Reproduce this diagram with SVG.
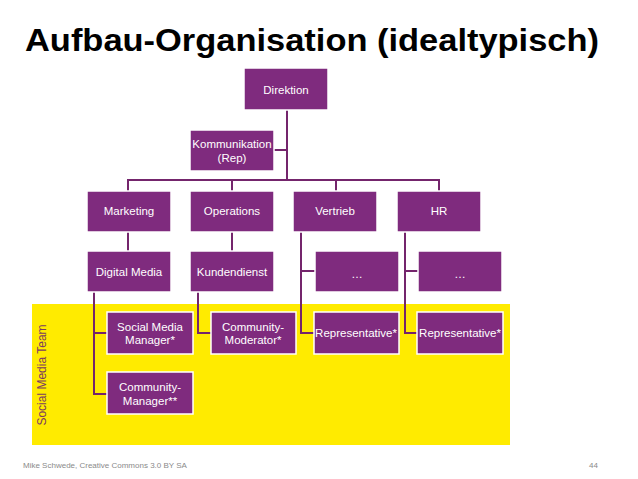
<svg xmlns="http://www.w3.org/2000/svg" width="638" height="479" viewBox="0 0 638 479">
<style>
.box{fill:#7f2b7e;stroke:#ffffff;stroke-width:1.5}
.t{font-family:"Liberation Sans",Arial,sans-serif;font-size:11.5px;fill:#ffffff;text-anchor:middle}
.c{fill:none;stroke:#74256c;stroke-width:2}
</style>
<rect width="638" height="479" fill="#ffffff"/>
<text x="25" y="51" font-family="Liberation Sans,Arial,sans-serif" font-weight="bold" font-size="31" fill="#000000" textLength="574" lengthAdjust="spacingAndGlyphs">Aufbau-Organisation (idealtypisch)</text>
<rect id="social-media-team-area" x="32" y="304" width="478" height="141" fill="#ffeb00"/>
<text x="0" y="0" transform="translate(46,375) rotate(-90)" font-family="Liberation Sans,Arial,sans-serif" font-size="12" fill="#7a3a62" text-anchor="middle">Social Media Team</text>
<g id="connectors">
<path class="c" d="M287,110 V180"/>
<path class="c" d="M274,150 H287"/>
<path class="c" d="M128,191 V180 H439 V191"/>
<path class="c" d="M232,180 V191"/>
<path class="c" d="M336,180 V191"/>
<path class="c" d="M128,232 V251"/>
<path class="c" d="M232,232 V251"/>
<path class="c" d="M301,232 V333 H314"/>
<path class="c" d="M301,271 H315"/>
<path class="c" d="M405,232 V333 H417"/>
<path class="c" d="M405,271 H418"/>
<path class="c" d="M94,292 V394 H107"/>
<path class="c" d="M94,333 H107"/>
<path class="c" d="M198,292 V333 H211"/>
</g>
<g id="direktion"><rect class="box" x="244" y="68" width="84" height="42"/><text class="t" x="286" y="94">Direktion</text></g>
<g id="kommunikation"><rect class="box" x="190" y="130" width="84" height="41"/><text class="t" x="232" y="148">Kommunikation</text><text class="t" x="232" y="162">(Rep)</text></g>
<g id="marketing"><rect class="box" x="87" y="191" width="84" height="41"/><text class="t" x="129" y="215">Marketing</text></g>
<g id="operations"><rect class="box" x="190" y="191" width="84" height="41"/><text class="t" x="232" y="215">Operations</text></g>
<g id="vertrieb"><rect class="box" x="293" y="191" width="84" height="41"/><text class="t" x="335" y="215">Vertrieb</text></g>
<g id="hr"><rect class="box" x="397" y="191" width="84" height="41"/><text class="t" x="439" y="215">HR</text></g>
<g id="digital-media"><rect class="box" x="87" y="251" width="84" height="41"/><text class="t" x="129" y="276">Digital Media</text></g>
<g id="kundendienst"><rect class="box" x="190" y="251" width="84" height="41"/><text class="t" x="232" y="276">Kundendienst</text></g>
<g id="vertrieb-dots"><rect class="box" x="315" y="251" width="84" height="41"/><text class="t" x="357" y="278">…</text></g>
<g id="hr-dots"><rect class="box" x="418" y="251" width="84" height="41"/><text class="t" x="460" y="278">…</text></g>
<g id="social-media-manager"><rect class="box" x="107" y="312" width="86" height="42"/><text class="t" x="150" y="331">Social Media</text><text class="t" x="150" y="344">Manager*</text></g>
<g id="community-moderator"><rect class="box" x="211" y="312" width="85" height="42"/><text class="t" x="253" y="331">Community-</text><text class="t" x="253" y="344">Moderator*</text></g>
<g id="representative-vertrieb"><rect class="box" x="314" y="312" width="85" height="42"/><text class="t" x="356" y="337">Representative*</text></g>
<g id="representative-hr"><rect class="box" x="417" y="312" width="86" height="42"/><text class="t" x="460" y="337">Representative*</text></g>
<g id="community-manager"><rect class="box" x="107" y="372" width="86" height="42"/><text class="t" x="150" y="391">Community-</text><text class="t" x="150" y="405">Manager**</text></g>
<text x="23" y="468" font-family="Liberation Sans,Arial,sans-serif" font-size="8" fill="#8a8a8a">Mike Schwede, Creative Commons 3.0 BY SA</text>
<text x="589" y="468" font-family="Liberation Sans,Arial,sans-serif" font-size="8" fill="#8a8a8a">44</text>
</svg>
